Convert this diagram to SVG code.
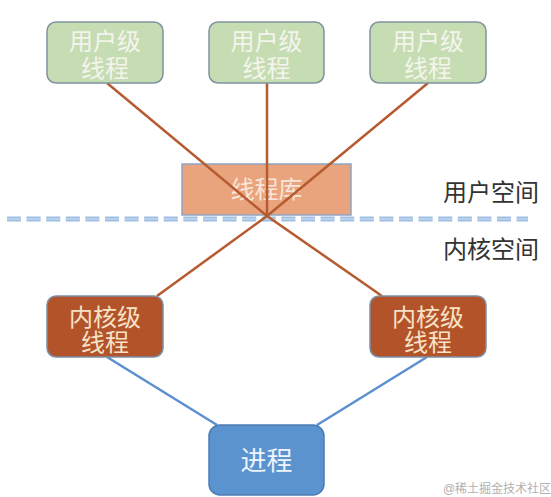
<svg xmlns="http://www.w3.org/2000/svg" width="551" height="497" viewBox="0 0 551 497">
<style>
text{font-family:"Liberation Sans","Noto Sans CJK SC",sans-serif;text-anchor:middle;}
.user rect{fill:#c6dcb2;stroke:#7f92a0;stroke-width:1.5;}
.user text{fill:#f3f5ec;font-size:24px;}
.kern rect{fill:#b3532a;stroke:#7d8fa6;stroke-width:1.5;}
.kern text{fill:#f7e2c8;font-size:24px;}
.lib rect{fill:#e9a47e;stroke:#8ea4c4;stroke-width:1.5;}
.lib text{fill:#f8e6da;font-size:24px;}
.proc rect{fill:#5a93cd;stroke:#4b7cb3;stroke-width:1.5;}
.proc text{fill:#eef4fb;font-size:26px;}
.lbl{fill:#333333;font-size:24px;}
.o{stroke:#b65b30;stroke-width:2.5;fill:none;}
.b{stroke:#5b8fd0;stroke-width:2.5;fill:none;}
</style>
<rect width="551" height="497" fill="#ffffff"/>
<g id="divider">
<line x1="7" y1="219" x2="528" y2="219" stroke="#9ebfe2" stroke-width="5" stroke-dasharray="14 5.6"/>
<line x1="7" y1="219" x2="528" y2="219" stroke="#d2e2f3" stroke-width="1.2" stroke-dasharray="14 5.6"/>
</g>
<g id="lib" class="lib">
<rect x="182" y="164" width="169" height="51"/>
<text x="266.5" y="198">线程库</text>
</g>
<g id="connectors">
<line class="o" x1="107" y1="83" x2="267" y2="216"/>
<line class="o" x1="267" y1="83" x2="267" y2="216"/>
<line class="o" x1="428" y1="83" x2="267" y2="216"/>
<line class="o" x1="267" y1="216" x2="157" y2="296"/>
<line class="o" x1="267" y1="216" x2="382" y2="296"/>
<line class="b" x1="107" y1="357" x2="217" y2="425"/>
<line class="b" x1="427" y1="357" x2="317" y2="425"/>
</g>
<g id="user1" class="user">
<rect x="47" y="22" width="116" height="61" rx="9"/>
<text x="105" y="50">用户级</text>
<text x="105" y="77">线程</text>
</g>
<g id="user2" class="user">
<rect x="209" y="22" width="115" height="61" rx="9"/>
<text x="266.5" y="50">用户级</text>
<text x="266.5" y="77">线程</text>
</g>
<g id="user3" class="user">
<rect x="370" y="22" width="116" height="61" rx="9"/>
<text x="428" y="50">用户级</text>
<text x="428" y="77">线程</text>
</g>
<g id="kernel1" class="kern">
<rect x="47" y="296" width="116" height="61" rx="9"/>
<text x="105" y="326">内核级</text>
<text x="105" y="351">线程</text>
</g>
<g id="kernel2" class="kern">
<rect x="370" y="296" width="116" height="61" rx="9"/>
<text x="428" y="326">内核级</text>
<text x="428" y="351">线程</text>
</g>
<g id="process" class="proc">
<rect x="209" y="425" width="115" height="70" rx="11"/>
<text x="266.5" y="470">进程</text>
</g>
<text class="lbl" x="491" y="201">用户空间</text>
<text class="lbl" x="491" y="258">内核空间</text>
<text x="497" y="493" style="fill:#b0b0b0;font-size:12px;">@稀土掘金技术社区</text>
</svg>
